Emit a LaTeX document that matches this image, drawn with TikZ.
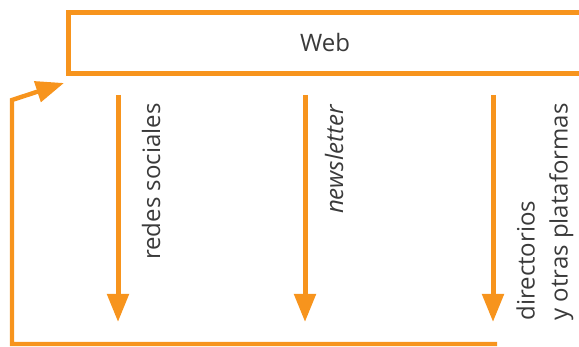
\documentclass[tikz,border=0pt]{standalone}
\usepackage{fontspec}
\setmainfont{Open Sans}
\usetikzlibrary{positioning}
\usetikzlibrary{arrows.meta}
\definecolor{webor}{HTML}{F7941D}
\definecolor{webtx}{HTML}{3A3A3A}
\tikzset{
    webnode/.style = {rectangle, line width=2.5pt, draw=webor, minimum width=257pt, minimum height=30.5pt, font=\fontsize{12}{14}\selectfont, text=webtx},
    chnode/.style = {rotate=90, inner sep=0pt, align=left, font=\fontsize{12}{16.5}\selectfont, text=webtx},
    edgeo/.style = {-{Triangle[length=14pt,width=10.5pt]}, line width=2.5pt, webor},
    edgeback/.style = {-{Triangle[length=14pt,width=10.5pt]}, line width=2.2pt, webor}, % feedback
}

\begin{document}
\begin{tikzpicture}[x=0.5pt,y=-0.5pt]
\useasboundingbox (0,0) rectangle (579,347);
\node[webnode] at (325,43) (web) {Web};
%
\coordinate (s1) at (118,95);
\coordinate (e1) at (118,322);
\coordinate (s2) at (305,95);
\coordinate (e2) at (305,322);
\coordinate (s3) at (493,95);
\coordinate (e3) at (493,322);
\node[chnode, anchor=base east] at (160,103) (redes) {redes sociales};
\node[chnode, anchor=base east] at (343,105) (news) {\itshape newsletter};
\node[chnode, anchor=north east] at (516,103) (direc) {directorios\\y otras plataformas};
%
\coordinate (b0) at (497,344);
\coordinate (b1) at (12,344);
\coordinate (b2) at (12,100);
\coordinate (b3) at (64,83);
%
\draw[edgeo] (s1) -- (e1);
\draw[edgeo] (s2) -- (e2);
\draw[edgeo] (s3) -- (e3);
\draw[edgeback] (b0) -- (b1) -- (b2) -- (b3);
\end{tikzpicture}
\end{document}
